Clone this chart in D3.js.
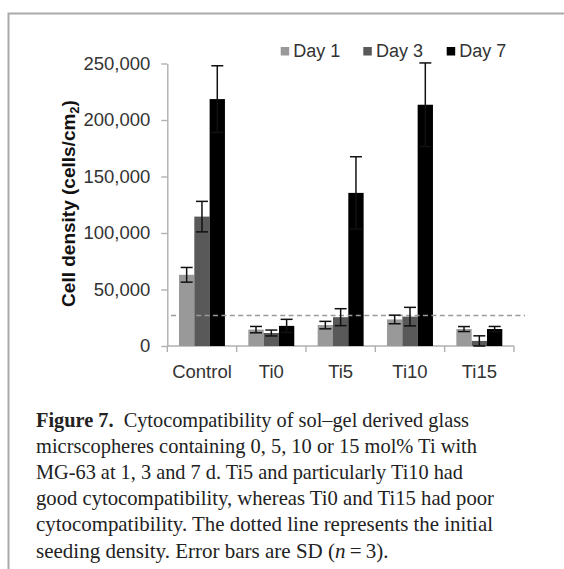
<!DOCTYPE html>
<html>
<head>
<meta charset="utf-8">
<script src="https://cdn.jsdelivr.net/npm/d3@7"></script>
<style>
  body { margin: 0; background: #fff; }
  svg { display: block; }
</style>
</head>
<body>
<svg id="chart" width="564" height="569"></svg>
<script>
// data
var groups = ["Control", "Ti0", "Ti5", "Ti10", "Ti15"];
var series = ["Day 1", "Day 3", "Day 7"];
var day1 = [63000, 14500, 18500, 23500, 15000];
var day3 = [114500, 11500, 25500, 26000, 4500];
var day7 = [218500, 17800, 135500, 213500, 15000];
var sd1 = [6500, 2800, 3300, 3800, 2200];
var sd3 = [13500, 2600, 7500, 8200, 4500];
var sd7 = [29500, 5800, 32000, 37000, 2300];
var seeding = 27000;
var yTicks = [0, 50000, 100000, 150000, 200000, 250000];
var colors = ["#999999", "#595959", "#000000"];

var captionLines = [
  "micrscopheres containing 0, 5, 10 or 15 mol% Ti with",
  "MG-63 at 1, 3 and 7 d. Ti5 and particularly Ti10 had",
  "good cytocompatibility, whereas Ti0 and Ti15 had poor",
  "cytocompatibility. The dotted line represents the initial"
];
var captionWidths = [433, 441, 427, 458, 457];

var sans = "Arial, 'Liberation Sans', sans-serif";
var axisGray = "#b0b0b0";

var svg = d3.select("#chart");

// frame around the figure (runs off the right and bottom)
svg.append("rect")
  .attr("x", 8.5).attr("y", 13.5)
  .attr("width", 600).attr("height", 600)
  .attr("fill", "none")
  .attr("stroke", "#aaaaaa")
  .attr("stroke-width", 2);

var x0 = d3.scaleBand().domain(groups).range([167.3, 514]);
var x1 = d3.scaleBand().domain(series).range([11.7, x0.bandwidth() - 11.7]);
var y = d3.scaleLinear().domain([0, 250000]).range([346, 63.5]);

var rows = [];
groups.forEach(function(g, i) {
  rows.push({g: g, s: "Day 1", v: day1[i], sd: sd1[i], c: colors[0]});
  rows.push({g: g, s: "Day 3", v: day3[i], sd: sd3[i], c: colors[1]});
  rows.push({g: g, s: "Day 7", v: day7[i], sd: sd7[i], c: colors[2]});
});

// y axis
var yAxis = svg.append("g")
  .attr("transform", "translate(167.3,0)")
  .call(d3.axisLeft(y).tickValues(yTicks).tickSize(6).tickSizeOuter(0).tickPadding(11)
    .tickFormat(d3.format(",")));
yAxis.selectAll("path, line").attr("stroke", axisGray).attr("stroke-width", 1.4);
yAxis.selectAll("text")
  .attr("font-family", sans)
  .attr("font-size", 18.5).attr("fill", "#333");

// x axis with ticks between groups
var xAxis = svg.append("g").attr("transform", "translate(0,346)");
xAxis.append("line")
  .attr("x1", 167.3).attr("x2", 514)
  .attr("stroke", axisGray).attr("stroke-width", 1.4);
var bounds = groups.map(function(g) { return x0(g); }).concat([x0.range()[1]]);
xAxis.selectAll(".tk").data(bounds).enter().append("line")
  .attr("x1", function(d) { return d; }).attr("x2", function(d) { return d; })
  .attr("y1", 0).attr("y2", 6)
  .attr("stroke", axisGray).attr("stroke-width", 1.4);
xAxis.selectAll(".lbl").data(groups).enter().append("text")
  .attr("x", function(d) { return x0(d) + x0.bandwidth() / 2; })
  .attr("y", 31.5)
  .attr("text-anchor", "middle")
  .attr("font-family", sans)
  .attr("font-size", 18.5).attr("fill", "#333")
  .text(function(d) { return d; });

// y axis title
var yt = svg.append("text")
  .attr("transform", "translate(75,203.5) rotate(-90)")
  .attr("text-anchor", "middle")
  .attr("font-family", sans)
  .attr("font-size", 19).attr("font-weight", "bold").attr("fill", "#111");
yt.append("tspan").text("Cell density (cells/cm");
yt.append("tspan").attr("font-size", 13).attr("dy", 4).text("2");
yt.append("tspan").attr("dy", -4).text(")");

// bars
svg.selectAll(".bar").data(rows).enter().append("rect")
  .attr("x", function(d) { return x0(d.g) + x1(d.s); })
  .attr("y", function(d) { return y(d.v); })
  .attr("width", x1.bandwidth())
  .attr("height", function(d) { return y(0) - y(d.v); })
  .attr("fill", function(d) { return d.c; });

// seeding density line
svg.append("line")
  .attr("x1", 171).attr("x2", 525)
  .attr("y1", y(seeding)).attr("y2", y(seeding))
  .attr("stroke", "#9a9a9a").attr("stroke-width", 1.5)
  .attr("stroke-dasharray", "5,3.4");

// error bars
var cx = function(d) { return x0(d.g) + x1(d.s) + x1.bandwidth() / 2; };
var eb = svg.selectAll(".err").data(rows).enter().append("g")
  .attr("stroke", "#111").attr("stroke-width", 1.5);
eb.append("line")
  .attr("x1", cx).attr("x2", cx)
  .attr("y1", function(d) { return y(Math.max(0, d.v - d.sd)); })
  .attr("y2", function(d) { return y(d.v + d.sd); });
[1, -1].forEach(function(sign) {
  eb.append("line")
    .attr("x1", function(d) { return cx(d) - 6; })
    .attr("x2", function(d) { return cx(d) + 6; })
    .attr("y1", function(d) { return y(Math.max(0, d.v + sign * d.sd)); })
    .attr("y2", function(d) { return y(Math.max(0, d.v + sign * d.sd)); });
});

// legend
var legX = [280.7, 363.3, 446.7];
var leg = svg.selectAll(".legend").data(series).enter().append("g")
  .attr("transform", function(d, i) { return "translate(" + legX[i] + ",51.3)"; });
leg.append("rect")
  .attr("x", 0).attr("y", -4.3).attr("width", 8.5).attr("height", 8.5)
  .attr("fill", function(d, i) { return colors[i]; });
leg.append("text")
  .attr("x", 12.6).attr("y", 5.4)
  .attr("font-family", sans)
  .attr("font-size", 18).attr("fill", "#333")
  .text(function(d) { return d; });

// caption
var cap = svg.append("g")
  .attr("font-family", "'Liberation Serif', 'Times New Roman', serif")
  .attr("font-size", 21).attr("fill", "#222");
var l1 = cap.append("text").attr("x", 36).attr("y", 427)
  .attr("textLength", captionWidths[0]).attr("lengthAdjust", "spacingAndGlyphs");
l1.append("tspan").attr("font-weight", "bold").text("Figure 7.");
l1.append("tspan").text("\u2002Cytocompatibility of sol\u2013gel derived glass");
captionLines.forEach(function(t, i) {
  cap.append("text").attr("x", 36).attr("y", 427 + (i + 1) * 26.1)
    .attr("textLength", captionWidths[i + 1]).attr("lengthAdjust", "spacingAndGlyphs")
    .text(t);
});
// last line, italic n kept inline
var last = cap.append("text").attr("x", 36).attr("y", 427 + 5 * 26.1);
last.append("tspan").text("seeding density. Error bars are SD (");
last.append("tspan").attr("font-style", "italic").text("n");
last.append("tspan").text("\u2009=\u20093).");
</script>
</body>
</html>
